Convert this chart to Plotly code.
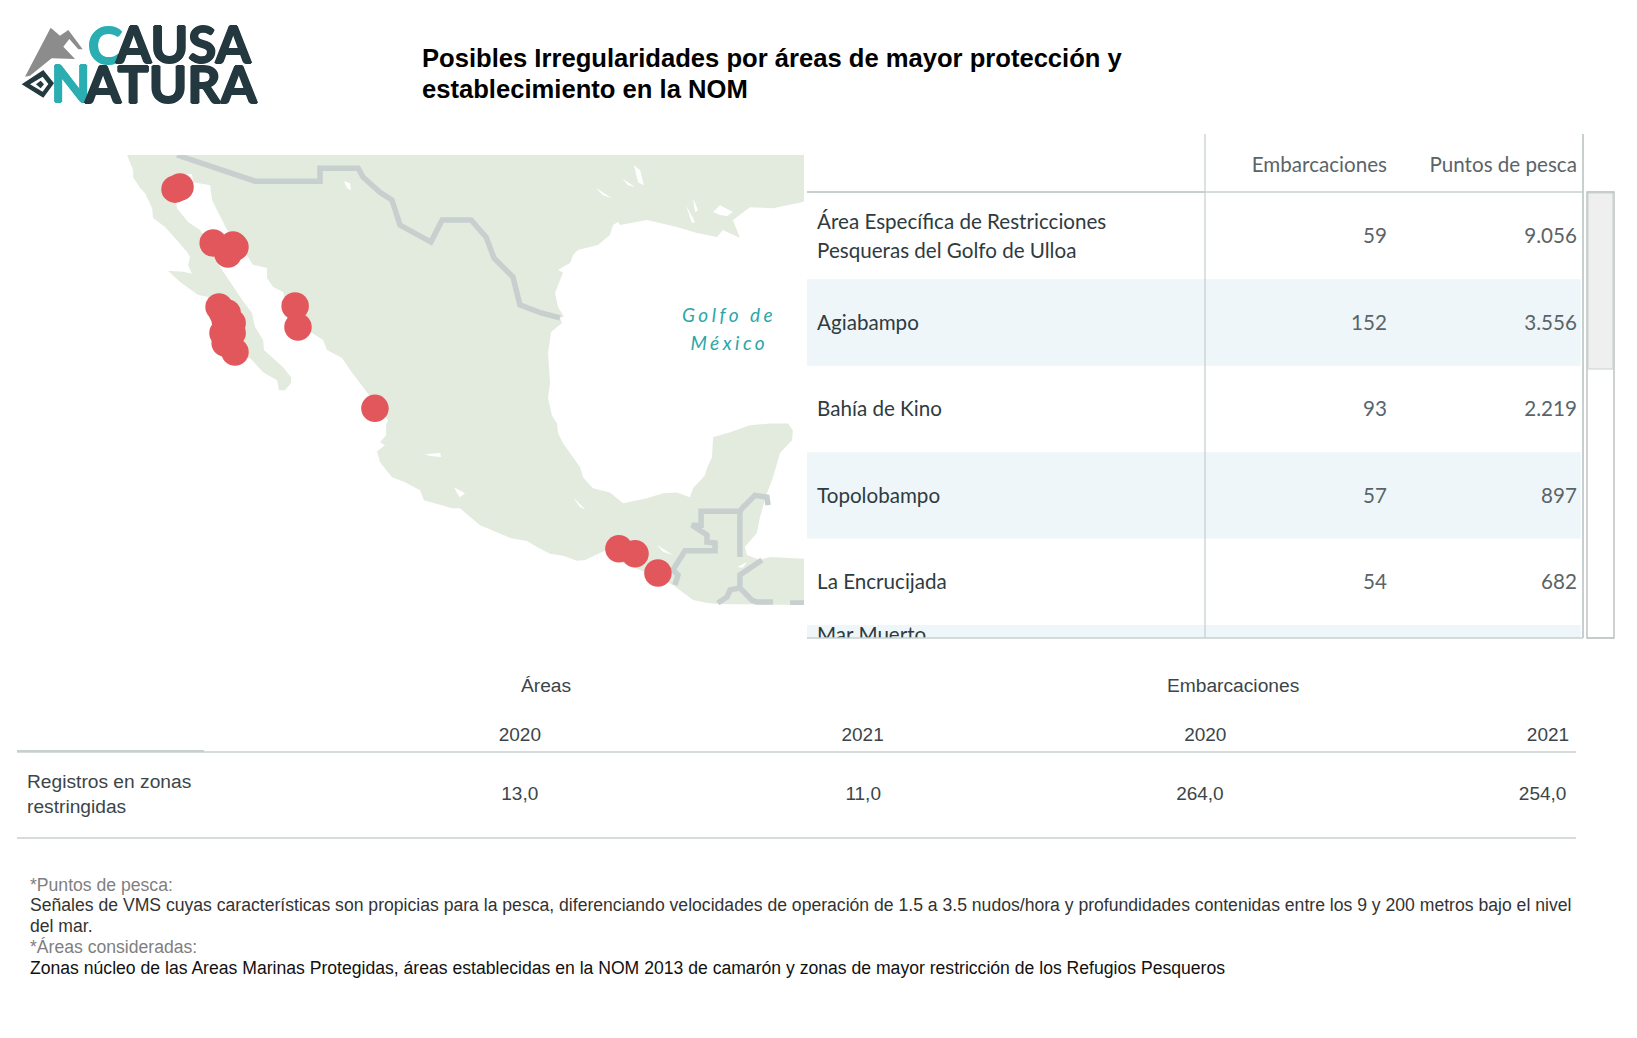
import numpy as np
import plotly.graph_objects as go

W, H = 1637, 1038

land_lon = [-117.01, -116.73, -116.73, -116.41, -116.18, -115.86, -115.82, -115.27, -114.81, -114.26, -114.12, -114.21,
            -114.03, -114.44, -115.13, -114.58, -113.75, -113.29, -113.11, -113.06, -112.06, -111.37, -110.77, -110.13,
            -110.04, -109.76, -109.49, -109.49, -109.85, -110.31, -110.73, -110.77, -111.14, -111.28, -111.73, -112.28,
            -112.74, -113.20, -113.66, -114.21, -114.72, -114.76, -114.90, -114.03, -113.98, -113.20, -113.11, -112.88,
            -112.42, -111.46, -111.23, -110.59, -110.59, -110.31, -109.85, -109.67, -109.67, -108.52, -108.02, -107.84,
            -107.15, -106.78, -106.32, -106.00, -105.04, -105.13, -105.13, -105.41, -105.18, -105.54, -105.41, -104.86,
            -104.26, -103.57, -103.39, -102.10, -101.74, -100.82, -99.44, -98.66, -98.21, -97.61, -97.01, -96.37,
            -96.00, -95.32, -95.00, -94.26, -93.16, -91.97, -91.05, -90.41, -89.95, -85.96, -85.96, -87.52,
            -87.98, -88.58, -88.67, -88.12, -87.98, -87.66, -87.38, -87.06, -86.51, -86.47, -86.69, -87.52,
            -88.44, -89.35, -90.13, -90.18, -90.41, -90.50, -91.05, -91.19, -91.79, -92.43, -93.16, -94.26,
            -94.54, -94.86, -95.64, -96.10, -96.23, -96.69, -97.01, -97.24, -97.29, -97.52, -97.70, -97.61,
            -97.70, -97.56, -97.06, -97.15, -96.97, -97.24, -97.38, -97.15, -97.01, -97.24, -96.69, -96.55,
            -96.33, -95.41, -94.86, -94.72, -94.49, -94.40, -93.16, -91.79, -90.87, -89.95, -89.68, -88.90,
            -89.22, -88.44, -87.38, -86.01, -85.96, -85.96]
land_lat = [32.47, 31.88, 31.61, 31.18, 30.98, 30.39, 30.00, 29.64, 29.20, 28.64, 28.44, 28.12,
            27.76, 27.84, 27.88, 27.43, 26.90, 26.82, 25.75, 24.92, 24.21, 24.29, 23.70, 23.36,
            22.94, 22.94, 23.24, 23.49, 23.91, 24.29, 24.63, 25.04, 25.58, 26.16, 26.69, 27.43,
            28.04, 28.84, 29.52, 29.84, 30.39, 30.71, 31.69, 31.73, 31.41, 31.29, 30.71, 30.31,
            29.52, 28.44, 28.12, 28.00, 27.59, 27.22, 27.02, 26.41, 25.87, 25.33, 25.04, 24.63,
            24.29, 23.79, 23.23, 22.85, 21.66, 21.45, 21.02, 20.72, 20.60, 20.34, 19.87, 19.22,
            19.00, 18.65, 18.22, 17.87, 17.87, 17.13, 16.57, 16.43, 16.17, 15.87, 15.78, 15.56,
            15.60, 15.91, 16.04, 15.47, 15.02, 14.49, 13.82, 13.69, 13.64, 13.60, 15.65, 15.73,
            15.60, 15.82, 16.17, 16.78, 17.48, 18.52, 19.22, 20.26, 20.81, 21.23, 21.53, 21.53,
            21.45, 21.15, 20.94, 20.09, 19.61, 19.30, 18.74, 18.35, 18.56, 18.52, 18.30, 18.09,
            18.30, 18.56, 18.74, 19.22, 19.65, 20.26, 20.68, 21.11, 21.53, 21.87, 22.60, 23.23,
            24.50, 25.37, 25.75, 25.96, 26.00, 26.41, 26.98, 27.51, 27.80, 27.92, 28.20, 28.52,
            28.72, 28.92, 29.32, 29.72, 29.84, 29.72, 29.92, 29.64, 29.40, 29.24, 29.52, 29.20,
            29.92, 30.43, 30.39, 30.63, 30.65, 32.47]

# lakes and bays
water_lon = [-103.34, -102.65, -102.61, -103.11, None, -102.01, -101.51, -101.74, -101.87, None,
             -96.55, -96.00, -96.23, None, -92.70, -91.97, -92.43, None, -89.03, -88.58, -88.76, None,
             -107.06, -106.78, -106.74, -106.92, None, -93.76, -93.48, -93.30, -93.57, None,
             -94.31, -93.71, -94.03, None, -95.50, -94.77, -95.18, None, -91.37, -90.96, -91.10, None,
             -91.05, -90.82, -90.96, None, -90.13, -89.81, -89.22, -89.49, -89.81]
water_lat = [20.21, 20.26, 20.09, 20.13, None, 18.78, 18.52, 18.35, 18.52, None,
             18.35, 17.83, 17.91, None, 16.26, 15.82, 15.96, None, 15.29, 15.51, 15.25, None,
             31.45, 31.37, 31.10, 31.18, None, 32.08, 31.88, 31.29, 31.41, None,
             31.57, 31.22, 31.29, None, 31.18, 30.78, 30.90, None, 30.51, 29.84, 29.80, None,
             30.78, 30.31, 30.24, None, 30.24, 30.51, 30.24, 30.08, 30.12]

border_lon = [-114.72, -111.14, -108.16, -108.16, -106.41, -106.19, -105.41, -104.86, -104.49, -103.07, -102.56,
              -101.23, -100.54, -100.18, -99.31, -98.99, -98.02, -97.15, None,
              -91.88, -91.74, -91.97, -91.42, -90.04, -90.04, -90.41, -90.41, -91.10, -90.68, -90.68, -88.90, -88.90, None,
              -88.90, -88.76, -88.21, -87.66, -87.61, None,
              -87.89, -88.90, -88.90, -88.35, -88.12, -87.38, None,
              -88.90, -89.35, -89.49, -89.91, None, -86.60, -85.96]
border_lat = [32.47, 31.45, 31.45, 31.96, 31.96, 31.61, 31.02, 30.71, 29.72, 29.04, 29.92,
              29.92, 29.24, 28.40, 27.63, 26.49, 26.16, 25.96, None,
              14.49, 14.93, 15.16, 16.00, 16.00, 16.35, 16.39, 16.70, 17.13, 17.13, 17.74, 17.74, 15.73, None,
              17.74, 17.91, 18.43, 18.35, 18.00, None,
              15.60, 14.93, 14.36, 13.82, 13.73, 13.73, None,
              14.36, 14.27, 13.96, 13.69, None, 13.69, 13.69]

# restricted zones with fishing vessels
zone_lon = [-114.81, -114.58, -113.06, -112.15, -112.06, -112.38, -112.79, -112.42, -112.19, -112.61, -112.28,
            -112.51, -112.06, -109.30, -109.17, -105.64, -94.45, -93.71, -92.66, -112.51, -112.33, -112.19, -112.65]
zone_lat = [31.14, 31.22, 29.00, 28.92, 28.84, 28.56, 26.41, 26.16, 25.75, 25.33, 25.25,
            24.92, 24.54, 26.45, 25.58, 22.17, 16.09, 15.87, 15.02, 25.87, 24.92, 25.33, 26.20]

# upper table
area_names = ["Área Específica de Restricciones<br>Pesqueras del Golfo de Ulloa", "Agiabampo", "Bahía de Kino",
              "Topolobampo", "La Encrucijada"]
clipped_area = "Mar Muerto"
vessels = ["59", "152", "93", "57", "54"]
fishing_points = ["9.056", "3.556", "2.219", "897", "682"]
table_headers = ["Embarcaciones", "Puntos de pesca"]

# lower table
year_labels = ["2020", "2021", "2020", "2021"]
restricted = [13.0, 11.0, 264.0, 254.0]

footnotes = [
    ("*Puntos de pesca:", "#7f7f7f", 884.5),
    ("Señales de VMS cuyas características son propicias para la pesca, diferenciando velocidades de operación de 1.5 a 3.5 nudos/hora y profundidades contenidas entre los 9 y 200 metros bajo el nivel", "#333333", 905),
    ("del mar.", "#333333", 926),
    ("*Áreas consideradas:", "#7f7f7f", 946.5),
    ("Zonas núcleo de las Areas Marinas Protegidas, áreas establecidas en la NOM 2013 de camarón y zonas de mayor restricción de los Refugios Pesqueros", "#111111", 967.5),
]

LINE = "#c8cfcf"
ARIAL = "Liberation Sans"
BOOK = "Lato"
TEXT_DOWN = 0.025


def merc(lat):
    lat = np.array([np.nan if v is None else v for v in lat], dtype=float)
    return np.degrees(np.log(np.tan(np.pi / 4 + np.radians(lat) / 2)))


def fx(px):
    return px / W


def fy(py):
    return 1 - py / H


def ann(text, px, py, size, color, family=ARIAL, anchor="left", **kw):
    fig.add_annotation(text=text, x=fx(px), y=fy(py), xref="paper", yref="paper", xanchor=anchor, yanchor="middle",
                       showarrow=False, align=anchor, font=dict(size=size, color=color, family=family, **kw))


def rule(x0, y0, x1, y1, color=LINE, width=1.3):
    fig.add_shape(type="line", xref="paper", yref="paper", x0=fx(x0), y0=fy(y0), x1=fx(x1), y1=fy(y1),
                  line=dict(color=color, width=width))


def poly(pts, color):
    path = "M" + "L".join(f"{fx(x + 10):.5f},{fy(y + 15):.5f}" for x, y in [(a / 3, b / 3) for a, b in pts]) + "Z"
    fig.add_shape(type="path", xref="paper", yref="paper", path=path, fillcolor=color, line_width=0)


fig = go.Figure()

# map
fig.add_trace(go.Scatter(x=land_lon, y=merc(land_lat), mode="lines", fill="toself", fillcolor="#e3ebdf",
                         line=dict(width=0, color="#e3ebdf"), hoverinfo="skip", xaxis="x", yaxis="y"))
fig.add_trace(go.Scatter(x=water_lon, y=merc(water_lat), mode="lines", fill="toself", fillcolor="white",
                         line=dict(width=0, color="white"), hoverinfo="skip", connectgaps=False, xaxis="x", yaxis="y"))
fig.add_trace(go.Scatter(x=border_lon, y=merc(border_lat), mode="lines", line=dict(width=5.5, color=LINE),
                         hoverinfo="skip", xaxis="x", yaxis="y"))
fig.add_trace(go.Scatter(x=zone_lon, y=merc(zone_lat), mode="markers", hoverinfo="skip", xaxis="x", yaxis="y",
                         marker=dict(size=27.5, color="#e2575b", line_width=0)))

# upper table
name_y, name_text = [], []
for i, name in enumerate(area_names):
    parts = name.split("<br>")
    off = [0] if len(parts) == 1 else [-0.17, 0.17]
    for o, p in zip(off, parts):
        name_y.append(i + o + TEXT_DOWN)
        name_text.append(p)
name_y.append(4.64)
name_text.append(clipped_area)
fig.add_trace(go.Scatter(x=[-3] * len(name_y), y=name_y, text=name_text, mode="text", textposition="middle right",
                         textfont=dict(size=20.6, color="#2e3b40", family=BOOK), hoverinfo="skip", cliponaxis=True,
                         xaxis="x2", yaxis="y2"))
for col, vals in enumerate([vessels, fishing_points]):
    fig.add_trace(go.Scatter(x=[col] * len(vals), y=[i + TEXT_DOWN for i in range(len(vals))], text=vals, mode="text",
                             textposition="middle left", textfont=dict(size=20.6, color="#5a6468", family=BOOK),
                             hoverinfo="skip", cliponaxis=True, xaxis="x2", yaxis="y2"))
fig.add_trace(go.Scatter(x=[0, 1], y=[-0.83 + TEXT_DOWN] * 2, text=table_headers, mode="text", textposition="middle left",
                         textfont=dict(size=20.6, color="#5a6468", family=BOOK), hoverinfo="skip", cliponaxis=True,
                         xaxis="x2", yaxis="y2"))
for i in [1, 3, 5]:
    fig.add_shape(type="rect", xref="x2", yref="y2", x0=-3.053, x1=1.02, y0=i - 0.5, y1=i + 0.5, fillcolor="#eef6f9",
                  line_width=0, layer="below")

# lower table
fig.add_trace(go.Scatter(x=[0, 1, 2, 3], y=[0, 0, 0, 0], text=year_labels, mode="text", textposition="middle left",
                         textfont=dict(size=19, color="#3c4549", family=ARIAL), hoverinfo="skip", xaxis="x3", yaxis="y3"))
fig.add_trace(go.Scatter(x=[-0.008, 0.992, 1.992, 2.992], y=[1, 1, 1, 1], text=[f"{v:.1f}".replace(".", ",") for v in restricted],
                         mode="text", textposition="middle left", textfont=dict(size=19, color="#3c4549", family=ARIAL),
                         hoverinfo="skip", xaxis="x3", yaxis="y3"))

ann("Áreas", 546, 685, 19.2, "#3c4549", anchor="center")
ann("Embarcaciones", 1233, 685, 19.2, "#3c4549", anchor="center")
ann("Registros en zonas<br>restringidas", 25, 794, 19.2, "#3c4549")

# rules
rule(807, 192, 1205, 192, width=2.2)
rule(1205, 192, 1583, 192, width=1.5)
rule(1205, 134, 1205, 638)
rule(1583, 134, 1583, 638, width=2)
rule(807, 638, 1583, 638)
rule(17, 752, 1576, 752)
rule(17, 751, 204, 751, width=2)
rule(17, 838, 1576, 838)

# scroll bar
fig.add_shape(type="rect", xref="paper", yref="paper", x0=fx(1587), x1=fx(1614), y0=fy(192), y1=fy(638),
              fillcolor="white", line=dict(color="#b4bbbb", width=1.3))
fig.add_shape(type="rect", xref="paper", yref="paper", x0=fx(1588), x1=fx(1613), y0=fy(193), y1=fy(369),
              fillcolor="#efefef", line=dict(color="#c8cfcf", width=1))

# title and notes
ann("Posibles Irregularidades por áreas de mayor protección y", 420, 58, 25.6, "#000000", weight="bold")
ann("establecimiento en la NOM", 420, 89, 25.6, "#000000", weight="bold")
ann("Golfo de", 729, 314, 19, "#2aa6a8", family=BOOK, anchor="center", style="italic")
ann("México", 729, 342, 19, "#2aa6a8", family=BOOK, anchor="center", style="italic")
for text, color, py in footnotes:
    ann(text, 27.5, py, 17.6, color)

# logo
poly([(45, 185), (122, 38), (150, 62), (175, 45), (218, 103), (205, 103), (178, 72), (160, 95), (195, 132), (125, 130), (60, 182)], "#8c8c8c")
poly([(35, 208), (100, 165), (132, 205), (100, 248)], "#23383f")
poly([(60, 208), (98, 185), (115, 207), (98, 230)], "white")
poly([(78, 208), (92, 197), (102, 208), (92, 220)], "#23383f")
thick_teal = "1px 0 0 #2aaeb2, -1px 0 0 #2aaeb2, 0 1px 0 #2aaeb2, 0 -1px 0 #2aaeb2"
thick_dark = "1px 0 0 #23383f, -1px 0 0 #23383f, 0 1px 0 #23383f, 0 -1px 0 #23383f"
ann("C", 86, 44, 52, "#2aaeb2", family=BOOK, weight="bold", shadow=thick_teal)
ann("AUSA", 113, 44, 51, "#23383f", family=BOOK, weight="bold", shadow=thick_dark)
ann("N", 49, 83, 51, "#2aaeb2", family=BOOK, weight="bold", shadow=thick_teal)
ann("ATURA", 82, 83, 52, "#23383f", family=BOOK, weight="bold", shadow=thick_dark)

fig.update_layout(
    width=W, height=H, margin=dict(l=0, r=0, t=0, b=0, autoexpand=False), showlegend=False,
    plot_bgcolor="white", paper_bgcolor="white",
    xaxis=dict(domain=[fx(124), fx(804)], range=[-117.15, -85.96], visible=False),
    yaxis=dict(domain=[fy(605), fy(155)], range=list(merc([13.60, 32.47])), visible=False),
    xaxis2=dict(domain=[fx(807), fx(1583)], range=[-3.053, 1.032], visible=False),
    yaxis2=dict(domain=[fy(638), fy(134)], range=[4.65, -1.18], visible=False),
    xaxis3=dict(domain=[fx(17), fx(1576)], range=[-1.529, 3.02], visible=False),
    yaxis3=dict(domain=[fy(838), fy(700)], range=[1.729, -0.61], visible=False),
)

tweak = """
document.body.style.margin = '0';
document.querySelectorAll('.annotation-text').forEach(function (t) {
  if (t.textContent === 'Golfo de' || t.textContent === 'México') { t.style.letterSpacing = '3.5px'; }
});
"""
fig.write_html("out.html", post_script=tweak, config={"displayModeBar": False})
